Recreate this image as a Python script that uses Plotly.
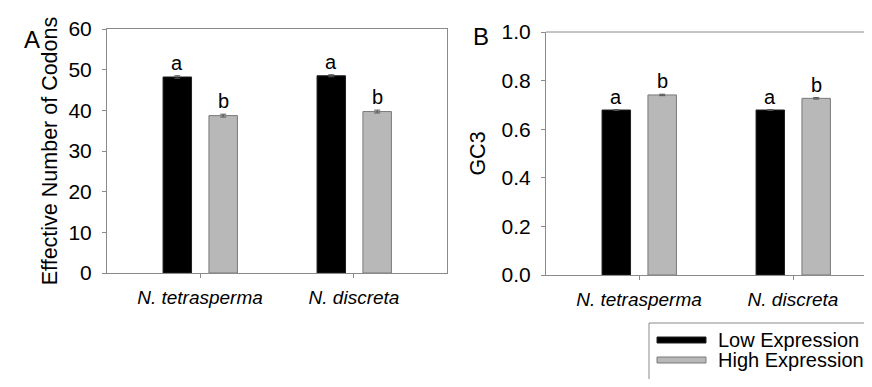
import plotly.graph_objects as go

categories = ["N. tetrasperma", "N. discreta"]
series_names = ["Low Expression", "High Expression"]

enc_low = [48.2, 48.5]
enc_high = [38.7, 39.7]
enc_low_err = [0.3, 0.25]
enc_high_err = [0.35, 0.35]

gc3_low = [0.679, 0.679]
gc3_high = [0.741, 0.727]
gc3_low_err = [0.002, 0.002]
gc3_high_err = [0.003, 0.003]

letters_low = ["a", "a"]
letters_high = ["b", "b"]

enc_ticks = [0, 10, 20, 30, 40, 50, 60]
gc3_ticks = [0.0, 0.2, 0.4, 0.6, 0.8, 1.0]
gc3_ticklabels = ["0.0", "0.2", "0.4", "0.6", "0.8", "1.0"]

OX, OY = 8, 8  # page body margin offset
W, H = 872 - 2 * OX, 387 - 2 * OY


def px(x):
    return (x - OX) / W


def py(y):
    return 1 - (y - OY) / H


FONT = "Liberation Sans, Arial, sans-serif"
AX = "#8a8a8a"
BLACK = "#000000"
GRAY = "#b8b8b8"
GRAY_EDGE = "#7a7a7a"

xpos = [0, 1]
BW = 0.185
OFF_LOW = -0.24
OFF_HIGH = 0.058

fig = go.Figure()


def add_panel(low, high, low_err, high_err, xa, ya):
    fig.add_trace(go.Bar(
        x=xpos, y=low, width=BW, offset=OFF_LOW, name=series_names[0],
        marker=dict(color=BLACK, line=dict(color="#202020", width=1)),
        error_y=dict(type="data", array=low_err, color="#555555", thickness=1, width=3),
        xaxis=xa, yaxis=ya, showlegend=False))
    fig.add_trace(go.Bar(
        x=xpos, y=high, width=BW, offset=OFF_HIGH, name=series_names[1],
        marker=dict(color=GRAY, line=dict(color=GRAY_EDGE, width=1)),
        error_y=dict(type="data", array=high_err, color="#555555", thickness=1, width=3),
        xaxis=xa, yaxis=ya, showlegend=False))
    for i in range(2):
        fig.add_annotation(x=xpos[i] + OFF_LOW + BW / 2, y=low[i] + low_err[i], xref=xa, yref=ya,
                           text=letters_low[i], showarrow=False, yanchor="bottom", yshift=0,
                           font=dict(family=FONT, size=20, color="black"))
        fig.add_annotation(x=xpos[i] + OFF_HIGH + BW / 2, y=high[i] + high_err[i], xref=xa, yref=ya,
                           text=letters_high[i], showarrow=False, yanchor="bottom", yshift=0,
                           font=dict(family=FONT, size=20, color="black"))


add_panel(enc_low, enc_high, enc_low_err, enc_high_err, "x", "y")
add_panel(gc3_low, gc3_high, gc3_low_err, gc3_high_err, "x2", "y2")

tickfont = dict(family=FONT, size=21, color="black")
catfont = dict(family=FONT, size=19, color="black")
cat_text = ["<i>" + c + "</i>" for c in categories]

common_x = dict(tickmode="array", tickvals=xpos, ticktext=cat_text, ticks="outside", ticklen=4,
                tickcolor=AX, showline=True, linecolor=AX, linewidth=1, showgrid=False,
                zeroline=False, tickfont=catfont, ticklabelstandoff=3, automargin=False)
common_y = dict(ticks="outside", ticklen=4, tickcolor=AX, showline=True, linecolor=AX, linewidth=1,
                showgrid=False, zeroline=False, tickfont=tickfont, ticklabelstandoff=6,
                automargin=False)

fig.update_layout(
    width=W, height=H, margin=dict(l=0, r=0, t=0, b=0, autoexpand=False),
    paper_bgcolor="white", plot_bgcolor="white", showlegend=False, barmode="overlay",
    xaxis=dict(domain=[px(107), px(447)], range=[-0.604, 1.604], mirror=True, anchor="y", **common_x),
    yaxis=dict(domain=[py(273), py(29)], range=[0, 60], tickvals=enc_ticks, mirror=True,
               anchor="x",
               title=dict(text="Effective Number of Codons",
                          font=dict(family=FONT, size=21.5, color="black"), standoff=4),
               **common_y),
    xaxis2=dict(domain=[px(546), 1.0], range=[-0.604, (W + OX - 639) / 154], mirror=False, anchor="y2",
                **common_x),
    yaxis2=dict(domain=[py(275), py(32)], range=[0, 1.0], tickvals=gc3_ticks,
                ticktext=gc3_ticklabels, anchor="x2", mirror=False,
                title=dict(text="GC3", font=dict(family=FONT, size=21.5, color="black"), standoff=10),
                **common_y),
)

# top frame line of panel B (right side is cropped in the original)
fig.add_shape(type="line", xref="x2 domain", yref="y2 domain", x0=0, x1=1, y0=1, y1=1,
              line=dict(color=AX, width=1))

# panel letters
fig.add_annotation(x=px(22), y=py(24), xref="paper", yref="paper", text="A", showarrow=False,
                   font=dict(family=FONT, size=24, color="black"))
fig.add_annotation(x=px(481), y=py(21), xref="paper", yref="paper", text="B", showarrow=False,
                   font=dict(family=FONT, size=24, color="black"))

# legend box (drawn manually to mimic the wide bar swatches)
fig.add_shape(type="rect", xref="paper", yref="paper", x0=px(649), x1=1.2, y0=-0.2, y1=py(323),
              line=dict(color="#8a8a8a", width=1), fillcolor="white")
legend_rows = [(340, BLACK, "#202020"), (360, GRAY, GRAY_EDGE)]
for (yy, fc, lc), name in zip(legend_rows, series_names):
    fig.add_shape(type="rect", xref="paper", yref="paper", x0=px(657), x1=px(706),
                  y0=py(yy + 3), y1=py(yy - 3), line=dict(color=lc, width=1), fillcolor=fc)
    fig.add_annotation(x=px(716), y=py(yy), xref="paper", yref="paper", text=name, showarrow=False,
                       xanchor="left", yanchor="middle", font=dict(family=FONT, size=20, color="black"))

fig.write_html("out.html")
